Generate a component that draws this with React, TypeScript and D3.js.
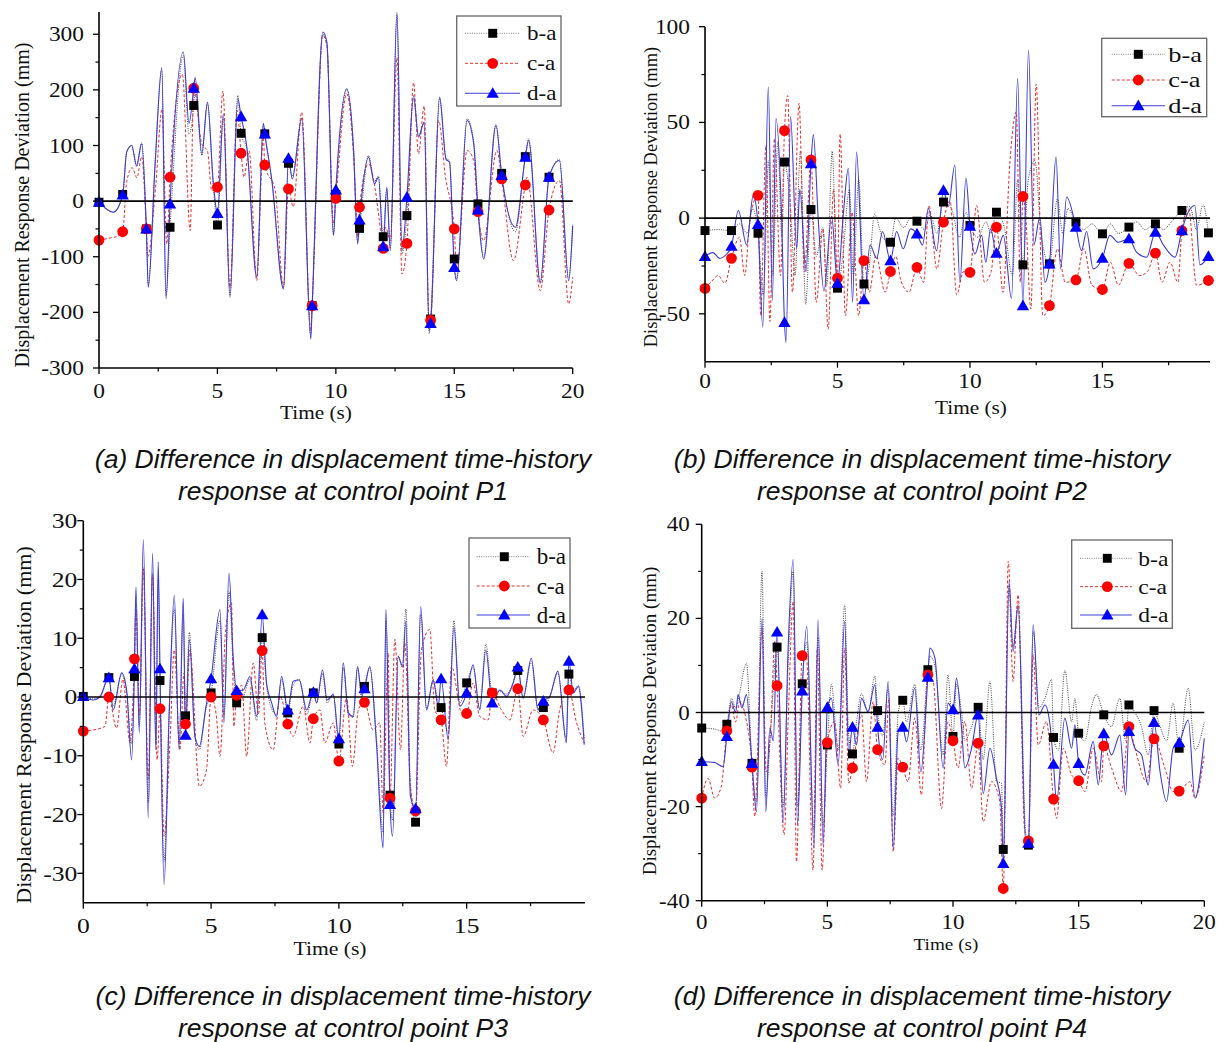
import React from "react";
import * as d3 from "d3";

type Pt = [number, number];

// sample times of the markers (whole seconds)
const markTimes = [0, 1, 2, 3, 4, 5, 6, 7, 8, 9, 10, 11, 12, 13, 14, 15, 16, 17, 18, 19];
const seriesNames = ["b-a", "c-a", "d-a"];

// ---------- P1 ----------
const p1MarkBA = [-2, 12, -50, -47, 172, -43, 122, 121, 68, -188, 12, -49, -64, -26, -212, -104, -5, 50, 80, 43];
const p1MarkCA = [-70, -55, -50, 43, 203, 25, 86, 65, 22, -188, 5, -11, -85, -76, -214, -50, -19, 40, 29, -16];
const p1MarkDA = [-2, 11, -50, -5, 203, -22, 152, 121, 77, -188, 20, -34, -82, 7, -220, -119, -16, 46, 79, 43];

const p1LineBA: Pt[] = [[0.6,-20],[1.17,90],[1.38,100],[1.59,62],[1.8,105],[2.08,-150],[2.37,70],[2.65,235],[2.83,-170],[3.56,262],[3.8,120],[4.06,205],[4.34,82],[4.58,175],[4.83,25],[5.25,150],[5.53,-170],[5.86,190],[6.25,92],[6.66,-135],[6.94,138],[7.3,35],[7.79,-155],[8.16,45],[8.56,150],[8.94,-240],[9.45,300],[9.62,284],[9.9,-60],[10.46,200],[10.75,95],[10.92,-72],[11.38,82],[11.63,35],[11.8,45],[12.15,22],[12.3,-85],[12.58,335],[12.79,-95],[13.28,185],[13.49,118],[13.73,140],[13.94,-238],[14.38,185],[14.65,78],[14.8,72],[15.1,-140],[15.54,148],[15.82,108],[16.24,-100],[16.76,138],[17.58,-55],[18.14,112],[18.63,-148],[19.44,75],[19.83,-140],[20,-42]];
const p1LineCA: Pt[] = [[0.5,-66],[0.85,-62],[1.17,35],[1.4,60],[1.6,42],[1.8,80],[2.06,-100],[2.4,30],[2.66,165],[2.86,-77],[3.52,228],[3.85,-53],[4.34,103],[4.58,90],[4.76,19],[5.23,198],[5.53,-155],[5.83,163],[6.12,43],[6.34,90],[6.66,-143],[6.94,115],[7.44,19],[7.79,-155],[8.2,-10],[8.56,160],[8.94,-233],[9.45,298],[9.62,280],[9.9,-41],[10.46,193],[10.75,80],[10.93,-65],[11.38,67],[11.66,22],[11.82,-29],[12.1,-47],[12.3,-71],[12.58,258],[12.79,-131],[13.28,213],[13.49,85],[13.73,171],[13.94,-218],[14.34,145],[14.62,46],[15.1,-125],[15.54,91],[15.82,73],[16.24,-71],[16.8,91],[17.5,-107],[18.07,43],[18.63,-161],[19.44,37],[19.83,-185],[20,-137]];
const p1LineDA: Pt[] = [[0.6,-20],[1.17,88],[1.38,100],[1.59,64],[1.8,103],[2.08,-155],[2.37,67],[2.65,240],[2.83,-176],[3.56,268],[3.8,140],[4.06,222],[4.34,85],[4.58,178],[4.83,31],[5.25,157],[5.53,-173],[5.86,184],[6.25,95],[6.66,-137],[6.94,140],[7.3,37],[7.79,-158],[8.16,40],[8.56,148],[8.94,-248],[9.45,304],[9.62,286],[9.9,-62],[10.46,202],[10.75,90],[10.92,-77],[11.38,79],[11.63,31],[11.8,43],[12.15,25],[12.3,-89],[12.58,340],[12.79,-89],[13.28,190],[13.49,115],[13.73,142],[13.94,-233],[14.38,187],[14.65,75],[14.8,70],[15.1,-143],[15.54,145],[15.82,103],[16.24,-104],[16.76,136],[17.58,-47],[18.14,109],[18.63,-146],[19.44,73],[19.83,-143],[20,-44]];

// ---------- P2 ----------
const p2MarkBA = [-6.5, -6.5, -7.9, 29.3, 4.5, -36.6, -34.4, -12.6, -1.6, 8.4, -3.8, 3.1, -24.4, -23.9, -2.1, -8.2, -4.7, -3, 4, -7.7];
const p2MarkCA = [-36.7, -21, 11.9, 45.7, 30.4, -31.4, -22.2, -27.9, -25.7, -2.1, -28.3, -4.7, 11.3, -45.7, -32.3, -37.3, -23.6, -18.3, -6.5, -32.6];
const p2MarkDA = [-20, -14.7, -3.3, -54.5, 28.4, -34, -42.6, -22.2, -8.2, 14.5, -4.2, -18.3, -45.7, -23.9, -4.7, -20.9, -10.8, -7.3, -6.5, -20];

const p2LineBA: Pt[] = [[0.5,-6],[1.3,-3],[1.6,-8],[1.8,5],[2.2,-40],[2.4,30],[2.55,-30],[2.75,40],[2.9,-10],[3.2,10],[3.4,-30],[3.6,35],[3.8,-45],[4.2,-20],[4.45,-5],[4.6,-35],[4.8,35],[5.2,-20],[5.45,15],[5.6,-30],[5.8,20],[6.2,-25],[6.4,2],[6.7,-10],[7.2,0],[7.5,-5],[7.75,0],[8.3,-6],[8.5,2],[8.75,-8],[9.3,5],[9.6,-10],[9.85,3],[10.3,-10],[10.6,-2],[10.8,-8],[11.3,-5],[11.6,-30],[11.8,20],[12.2,20],[12.45,30],[12.7,-10],[13.3,10],[13.5,-8],[13.7,5],[14.3,-6],[14.6,-3],[15.3,-3],[15.6,-8],[16.3,-2],[16.6,-6],[17.3,-6],[17.6,-2],[18.3,6],[18.55,-6],[18.8,7]];
const p2LineCA: Pt[] = [[0.25,-33],[0.5,-30],[0.75,-34],[1.3,-10],[1.5,-30],[1.7,0],[2.1,-51],[2.3,38],[2.45,-54],[2.62,41.5],[2.85,-30],[3.12,64],[3.3,-38.7],[3.55,60],[3.75,-28],[4.2,-44],[4.45,-5.6],[4.65,-58],[4.85,15],[5.1,44],[5.3,-51],[5.55,3],[5.8,-51],[6.2,-38.7],[6.45,-19.5],[6.8,-38.7],[7.2,-20],[7.4,-33],[7.7,-38.7],[8.25,-33.5],[8.45,6.6],[8.75,-26.5],[9.25,9],[9.5,-40],[9.75,-28],[10.25,6.6],[10.55,-33.5],[10.8,-28],[11.25,-38.7],[11.5,27.6],[11.75,55.5],[11.9,-33.5],[12.1,1.4],[12.3,-47.5],[12.5,70],[12.75,-51],[13.3,-16],[13.6,-33.5],[14.3,-16],[14.6,-35],[15.3,-23],[15.6,-35],[16.4,-30],[16.7,-28],[17.25,-33.5],[17.55,-23],[17.85,-33.5],[18.25,5],[18.55,-35]];
const p2LineDA: Pt[] = [[0.3,-18],[0.55,-21],[0.8,-19],[1.26,4],[1.57,-14],[1.82,12],[2.18,-57],[2.39,68.6],[2.54,-43],[2.68,52],[2.89,1],[3.06,-65],[3.23,53],[3.46,-16],[3.58,15],[3.81,-28],[4.09,43.6],[4.28,-2],[4.49,-38],[4.78,1],[5.22,2],[5.41,26],[5.57,-44],[5.72,34.5],[6.23,-14],[6.48,-21],[6.7,-7],[7.23,-7],[7.48,-16],[7.76,-5.6],[8.21,-14],[8.43,5],[8.74,-17],[9.18,6],[9.43,27.6],[9.62,-33.5],[9.85,21],[10.19,-18.7],[10.44,-9],[10.6,-23],[10.78,-5.6],[11.26,-9],[11.57,-42],[11.8,73],[12.21,87.8],[12.41,-14],[12.64,0.5],[12.83,-33.5],[13.25,32],[13.42,-26.5],[13.65,11],[14.21,-17],[14.4,-7],[14.65,-26.5],[15.28,-9],[15.6,-12.6],[16.29,-17.8],[16.67,-20.4],[17.3,-14],[17.74,-20.4],[18.2,2],[18.49,6.6],[18.68,-24.4]];

// ---------- P3 ----------
const p3MarkBA = [0.1, 3.3, 3.5, 2.8, -3.2, 0.7, -1, 10.1, -2.7, 0.7, -8, 1.8, -16.7, -21.3, -1.8, 2.4, 0.7, 4.5, -1.8, 3.9];
const p3MarkCA = [-5.8, 0, 6.5, -2, -4.6, 0, 0.3, 7.9, -4.6, -3.7, -10.9, -0.9, -17.2, -19.4, -3.9, -2.8, 0.7, 1.4, -3.9, 1.2];
const p3MarkDA = [0.1, 3.3, 4.8, 4.8, -6.5, 3.1, 1.1, 14, -2.2, 0.8, -7.1, 1.4, -18.3, -19, 3.1, 0.7, -1, 5.1, -0.7, 6.1];

const p3LineBA: Pt[] = [[0.39,-0.3],[0.65,0.2],[1.17,-1.5],[1.5,3.8],[1.7,0.5],[1.89,-8],[2.06,16],[2.19,-5],[2.35,22],[2.54,-18],[2.71,21],[2.84,-8],[2.93,20],[3.16,-28],[3.36,-2],[3.56,15],[3.75,-8],[3.91,14],[4.15,11],[4.37,-7],[4.54,-9],[4.8,-2],[5.35,13],[5.5,-3],[5.7,18],[5.87,5],[6.26,0],[6.52,3],[6.78,-4],[7.17,2],[7.37,-2],[7.56,-3],[7.76,3],[8.21,2],[8.45,3],[8.74,-3],[9.13,-1],[9.36,4],[9.54,-1],[9.78,0.5],[10.17,5],[10.37,-3],[10.56,-3.5],[10.73,5],[10.89,0],[11.21,5],[11.47,-7],[11.73,-23],[11.84,13],[12.1,-21],[12.32,7],[12.49,5],[12.62,15],[12.8,-15],[13.2,14],[13.43,-2],[13.69,3],[13.89,-1],[14.28,-6],[14.5,13],[14.73,-1],[15.25,5],[15.51,-2],[15.75,9],[16.3,1],[16.56,0.5],[16.82,2.5],[17.21,0],[17.53,6],[17.79,-2],[18.25,0],[18.57,4],[18.9,-7],[19.17,1],[19.37,2],[19.6,-7]];
const p3LineCA: Pt[] = [[0.4,-5.6],[0.85,-5],[1.3,-5.3],[1.55,3],[1.83,-7.8],[2.06,14.9],[2.2,-3],[2.35,21.7],[2.54,-14],[2.71,20.5],[2.89,-10.7],[3.16,-23.7],[3.39,-7.8],[3.56,8],[3.78,-9],[3.94,4.1],[4.17,8],[4.54,-15.2],[4.82,-12.4],[5.2,-3],[5.35,-10.1],[5.57,11.5],[5.8,16],[5.89,-5],[6.2,2],[6.39,-10.1],[6.65,5.8],[6.85,-3],[7.1,-4.4],[7.43,-9],[7.7,0.1],[8.21,-6.7],[8.6,-1.6],[8.87,-7.8],[9.26,-2.2],[9.45,-7.8],[9.78,-4.4],[10.3,0.1],[10.53,-11.8],[10.76,-2.2],[11.34,-5.6],[11.6,-4.4],[11.73,-19.7],[11.93,7.5],[12.19,9.8],[12.41,-9],[12.58,9.2],[12.8,-15.2],[13.23,8],[13.56,11.5],[13.75,-2.2],[14.21,-11.8],[14.41,5.2],[14.8,-2.7],[15.25,2.4],[15.51,-3.3],[15.84,-3.9],[16.36,-2.2],[16.69,-3.9],[17.21,-6.7],[17.6,-2.2],[18.38,-9.5],[18.64,-2.2],[19.3,-4.4],[19.6,-7.8]];
const p3LineDA: Pt[] = [[0.39,-0.5],[0.65,0],[1.17,-2.2],[1.5,4.1],[1.7,1],[1.89,-10.7],[2.06,18.7],[2.19,-6.1],[2.35,26.8],[2.54,-20.6],[2.71,24.5],[2.84,-9],[2.93,23],[3.16,-31.9],[3.36,-3],[3.56,17.3],[3.75,-9],[3.91,16.8],[4.15,9.8],[4.37,-6.7],[4.54,-8.4],[4.8,-1.6],[5.35,14.9],[5.5,-4.4],[5.7,21.1],[5.87,6.3],[6.26,1.2],[6.52,3.5],[6.78,-3.3],[7.17,2.4],[7.37,-1],[7.56,-3.3],[7.76,3.5],[8.21,2.7],[8.45,2.9],[8.74,-2.2],[9.13,-1],[9.36,4.6],[9.54,-0.5],[9.78,0.4],[10.17,5.8],[10.37,-2.7],[10.56,-3.3],[10.73,5.2],[10.89,0.4],[11.21,5.2],[11.47,-7.8],[11.73,-25.7],[11.84,14.9],[12.1,-23.7],[12.32,6.9],[12.49,5.2],[12.62,12.9],[12.8,-16.9],[13.2,15.4],[13.43,-2.2],[13.69,2.9],[13.89,-1.6],[14.28,-7.3],[14.5,12],[14.73,-1.6],[15.25,5.5],[15.51,-2.2],[15.75,8],[16.3,1.2],[16.56,0.1],[16.82,2.4],[17.21,-0.2],[17.53,6.6],[17.79,-2.2],[18.25,0.1],[18.57,4.4],[18.9,-7.8],[19.17,0.7],[19.37,1.8],[19.6,-8.1]];

// ---------- P4 ----------
const p4MarkBA = [-3.3, -2.5, -10.8, 13.9, 6.1, -6.9, -8.8, 0.4, 2.6, 9.1, -5.1, 1.1, -29.1, -28.2, -5.3, -4.4, -0.5, 1.6, 0.4, -7.6];
const p4MarkCA = [-18.2, -3.9, -11.6, 5.7, 12.1, -6.4, -11.8, -7.9, -11.6, 8, -6, -6.5, -37.4, -27.3, -18.4, -14.5, -7.1, -3, -5.6, -16.7];
const p4MarkDA = [-10.4, -5.1, -10.8, 17.1, 4.6, 1.1, -3.1, -3.1, -3.1, 7.5, 0.6, -0.5, -32.1, -27.8, -11, -10.8, -4.5, -4, -2.1, -6.4];

const p4LineBA: Pt[] = [[0.5,-3.5],[0.85,-4],[1.18,3],[1.35,1],[1.5,4],[1.78,10.5],[2.18,-19],[2.4,30],[2.55,-18],[2.75,-3],[2.96,20],[3.24,-20],[3.44,10],[3.64,30],[3.81,-20],[4.18,15],[4.47,-25],[4.63,16],[4.83,-24],[5.16,6],[5.43,-8],[5.69,22.9],[5.85,-5],[6.16,-2],[6.36,4],[6.62,0],[6.89,7.7],[7.2,-5],[7.42,5],[7.62,-22],[7.82,0],[8.15,-2],[8.48,6],[8.72,-8],[9.08,12],[9.28,10],[9.61,-9],[9.8,8],[10.14,6],[10.34,0],[10.47,-6],[10.74,-3],[11.2,-10],[11.47,6.6],[11.73,-14.7],[11.93,-15],[12.23,27],[12.39,14],[12.59,23],[12.9,-26],[13.19,17.2],[13.42,1],[13.66,3],[13.92,7],[14.2,-8],[14.45,9],[14.72,-2],[14.85,3],[15.25,-6],[15.5,1],[15.71,3.8],[16.3,-3],[16.64,3],[16.87,-6],[17.24,0],[17.5,-3],[17.77,-9],[18.24,-3],[18.5,-6],[18.76,2],[19.36,5.2],[19.63,-8],[20,-2]];
const p4LineCA: Pt[] = [[0.25,-14],[0.52,-18.2],[0.78,-15.7],[1.18,1.6],[1.35,-2],[1.51,2.3],[1.75,-1],[2.11,-22.1],[2.4,17.9],[2.57,-12.6],[2.75,-3],[2.91,15.1],[3.28,-26],[3.45,0],[3.64,23.6],[3.77,-31.7],[4.17,11.6],[4.43,-33.5],[4.6,13.7],[4.79,-33.5],[5.29,-1.9],[5.53,-16.1],[5.69,13.7],[5.85,-15],[6.36,-0.5],[6.56,-14.7],[6.82,2.3],[7.29,-11.1],[7.45,3],[7.62,-29.6],[7.82,-9.7],[8.21,-14.7],[8.48,-1.2],[8.74,-17.5],[9.21,6.6],[9.54,-20.4],[9.8,-2],[10.2,-11.8],[10.47,-1.9],[10.74,-16.1],[11.2,-23.2],[11.53,-14.7],[11.86,-18.9],[12.2,32.1],[12.39,6.6],[12.59,25],[12.85,-25],[13.19,12.3],[13.39,-6.9],[13.72,-1.9],[14.12,-22.5],[14.39,-7.6],[14.72,-13.3],[15.25,-16.8],[15.58,-7.6],[15.91,-14.7],[16.31,-11.8],[16.71,-16.8],[17.24,-7.6],[17.7,-14.7],[18.43,-11.8],[18.76,-16.8],[19.43,-14.7],[19.63,-18.2],[20,-9]];
const p4LineDA: Pt[] = [[0.5,-10.6],[0.85,-11.5],[1.18,2.3],[1.35,0],[1.45,3.8],[1.6,1],[1.78,3.8],[2.18,-21.1],[2.4,20],[2.55,-21.1],[2.71,-3.3],[2.85,-6],[2.96,23.6],[3.24,-23.5],[3.44,13.7],[3.64,32.5],[3.81,-23.9],[4.18,18.3],[4.47,-28.9],[4.63,19.7],[4.83,-28.2],[5.16,3],[5.43,-11.1],[5.69,19.4],[5.85,-9],[6.16,-6.9],[6.36,3],[6.62,0.2],[6.89,5.9],[7.2,-10],[7.42,6.6],[7.62,-28.9],[7.82,-4],[8.15,-6.2],[8.48,5.2],[8.72,-12.6],[9.08,13.7],[9.28,11.6],[9.61,-11.8],[9.8,2],[10.14,7.3],[10.34,-3.3],[10.47,-11.8],[10.74,-7.6],[11.2,-17.2],[11.47,-7.6],[11.73,-14],[11.93,-20.4],[12.23,27.9],[12.39,13],[12.59,22.6],[12.9,-28.2],[13.19,18.7],[13.42,-0.5],[13.66,1.6],[13.86,-2.6],[14.12,-18.9],[14.45,-1.2],[14.72,-7.6],[14.85,-2.6],[15.25,-13.3],[15.58,-6.2],[15.78,-15.4],[16.31,-9],[16.64,-4.8],[16.87,-17.5],[17.24,-7.6],[17.5,-9],[17.77,-15.4],[18.24,-12.6],[18.5,-18.9],[18.76,-7.6],[19.36,-1.6],[19.63,-18.2],[20,-5.5]];

const captions = [
  ["(a) Difference in displacement time-history", "response at control point P1"],
  ["(b) Difference in displacement time-history", "response at control point P2"],
  ["(c) Difference in displacement time-history", "response at control point P3"],
  ["(d) Difference in displacement time-history", "response at control point P4"],
];

// put the marker samples into the curve, drop near-duplicate times
function mergeSeries(line: Pt[], marks: number[]): Pt[] {
  const kept = line.filter(([t]) => !markTimes.some((m) => Math.abs(t - m) < 0.05));
  const pts = kept.concat(marks.map((v, i) => [markTimes[i], v] as Pt));
  return pts.sort((p, q) => p[0] - q[0]);
}

const SERIF = "'Liberation Serif', 'Times New Roman', serif";
const SANS = "'Liberation Sans', Arial, sans-serif";

const lineStyles = [
  { stroke: "#333", width: 0.9, dash: "1 1.3" },
  { stroke: "#e8302c", width: 1, dash: "3 2" },
  { stroke: "#3c3cdc", width: 1.1, dash: "" },
];
const markFill = ["#000", "#ff0000", "#0000ff"];
const markSym = [
  d3.symbol().type(d3.symbolSquare).size(80)(),
  d3.symbol().type(d3.symbolCircle).size(92)(),
  d3.symbol().type(d3.symbolTriangle).size(66)(),
];

const panels = [
  {
    left: 99, right: 572.7, top: 12, bottom: 368, xMax: 20, yMin: -300, yMax: 340,
    xTicks: [0, 5, 10, 15, 20], xMinor: [2.5, 7.5, 12.5, 17.5],
    yTicks: [-300, -200, -100, 0, 100, 200, 300], yMinor: [-250, -150, -50, 50, 150, 250],
    lines: [p1LineBA, p1LineCA, p1LineDA], marks: [p1MarkBA, p1MarkCA, p1MarkDA],
    tickSize: 20, tickSx: 1.17, yLabGap: 15, xLabBase: 398,
    yTitle: { x: 22, y: 205, size: 20 }, xTitle: { x: 316, y: 419, size: 19, sx: 1.12 },
    legend: { x: 456.7, y: 16, w: 104.3, h: 90, rows: [33.3, 63.3, 93.3], l0: 465, l1: 520, mx: 492.7, tx: 527, size: 21, sx: 1.1 },
    cap: { x: 343, y: 468 },
  },
  {
    left: 705, right: 1210, top: 26.7, bottom: 361.7, xMax: 19.06, yMin: -75, yMax: 100,
    xTicks: [0, 5, 10, 15], xMinor: [2.5, 7.5, 12.5, 17.5],
    yTicks: [-50, 0, 50, 100], yMinor: [-25, 25, 75],
    lines: [p2LineBA, p2LineCA, p2LineDA], marks: [p2MarkBA, p2MarkCA, p2MarkDA],
    tickSize: 20, tickSx: 1.17, yLabGap: 15, xLabBase: 388,
    yTitle: { x: 651, y: 197, size: 18.5 }, xTitle: { x: 971, y: 414, size: 19, sx: 1.12 },
    legend: { x: 1101.7, y: 38.3, w: 105, h: 78.4, rows: [54.3, 80, 105.7], l0: 1111.7, l1: 1165, mx: 1138.3, tx: 1168.3, size: 22, sx: 1.2 },
    cap: { x: 922, y: 468 },
  },
  {
    left: 83.3, right: 585, top: 520.7, bottom: 902.7, xMax: 19.63, yMin: -35, yMax: 30,
    xTicks: [0, 5, 10, 15], xMinor: [2.5, 7.5, 12.5, 17.5],
    yTicks: [-30, -20, -10, 0, 10, 20, 30], yMinor: [-25, -15, -5, 5, 15, 25],
    lines: [p3LineBA, p3LineCA, p3LineDA], marks: [p3MarkBA, p3MarkCA, p3MarkDA],
    tickSize: 21, tickSx: 1.22, yLabGap: 6, xLabBase: 933,
    yTitle: { x: 23, y: 725, size: 22 }, xTitle: { x: 330, y: 955, size: 18, sx: 1.2 },
    legend: { x: 469, y: 538, w: 101, h: 90, rows: [556.7, 586, 615], l0: 476.7, l1: 530, mx: 504.3, tx: 536.7, size: 23, sx: 1.0 },
    cap: { x: 343, y: 1005 },
  },
  {
    left: 701.7, right: 1204.3, top: 524.3, bottom: 900.7, xMax: 20, yMin: -40, yMax: 40,
    xTicks: [0, 5, 10, 15, 20], xMinor: [2.5, 7.5, 12.5, 17.5],
    yTicks: [-40, -20, 0, 20, 40], yMinor: [-30, -10, 10, 30],
    lines: [p4LineBA, p4LineCA, p4LineDA], marks: [p4MarkBA, p4MarkCA, p4MarkDA],
    tickSize: 20, tickSx: 1.15, yLabGap: 12, xLabBase: 929,
    yTitle: { x: 649, y: 721, size: 19 }, xTitle: { x: 946, y: 950, size: 17, sx: 1.13 },
    legend: { x: 1071.7, y: 540, w: 100.6, h: 88.3, rows: [558.3, 586.7, 615], l0: 1080, l1: 1131.7, mx: 1107.3, tx: 1138.3, size: 22, sx: 1.07 },
    cap: { x: 922, y: 1005 },
  },
];

function Panel({ cfg, caption }: { cfg: any; caption: string[] }) {
  const x = d3.scaleLinear().domain([0, cfg.xMax]).range([cfg.left, cfg.right]);
  const y = d3.scaleLinear().domain([cfg.yMin, cfg.yMax]).range([cfg.bottom, cfg.top]);
  const line = d3
    .line<Pt>()
    .x((d) => x(d[0]))
    .y((d) => y(d[1]))
    .curve(d3.curveMonotoneX);

  const merged = cfg.lines.map((l: Pt[], i: number) => mergeSeries(l, cfg.marks[i]));
  const lg = cfg.legend;

  return (
    <g>
      {/* curves */}
      {merged.map((pts: Pt[], i: number) => (
        <path
          key={"l" + i}
          d={line(pts) || ""}
          fill="none"
          stroke={lineStyles[i].stroke}
          strokeWidth={lineStyles[i].width}
          strokeDasharray={lineStyles[i].dash}
        />
      ))}
      {/* zero line */}
      <line x1={x(0)} x2={x(cfg.xMax)} y1={y(0)} y2={y(0)} stroke="#000" strokeWidth={1.6} />
      {/* markers */}
      {cfg.marks.map((vals: number[], i: number) =>
        vals.map((v, k) => (
          <path
            key={"m" + i + "-" + k}
            d={markSym[i] || ""}
            transform={`translate(${x(markTimes[k])},${y(v) + (i === 2 ? 1 : 0)})`}
            fill={markFill[i]}
          />
        ))
      )}
      {/* axes */}
      <line x1={cfg.left} x2={cfg.left} y1={cfg.top} y2={cfg.bottom} stroke="#000" strokeWidth={1.6} />
      <line x1={cfg.left} x2={cfg.right} y1={cfg.bottom} y2={cfg.bottom} stroke="#000" strokeWidth={1.6} />
      {cfg.yTicks.map((t: number) => (
        <g key={"yt" + t}>
          <line x1={cfg.left - 6} x2={cfg.left} y1={y(t)} y2={y(t)} stroke="#000" strokeWidth={1.3} />
          <text
            transform={`translate(${cfg.left - cfg.yLabGap},${y(t)}) scale(${cfg.tickSx},1)`}
            dy="0.35em"
            textAnchor="end"
            fontFamily={SERIF}
            fontSize={cfg.tickSize}
            fill="#111"
          >
            {t}
          </text>
        </g>
      ))}
      {cfg.yMinor.map((t: number) => (
        <line key={"ym" + t} x1={cfg.left - 3.5} x2={cfg.left} y1={y(t)} y2={y(t)} stroke="#000" strokeWidth={1.2} />
      ))}
      {cfg.xTicks.map((t: number) => (
        <g key={"xt" + t}>
          <line x1={x(t)} x2={x(t)} y1={cfg.bottom} y2={cfg.bottom + 6} stroke="#000" strokeWidth={1.3} />
          <text
            transform={`translate(${x(t)},${cfg.xLabBase}) scale(${cfg.tickSx},1)`}
            textAnchor="middle"
            fontFamily={SERIF}
            fontSize={cfg.tickSize}
            fill="#111"
          >
            {t}
          </text>
        </g>
      ))}
      {cfg.xMinor.map((t: number) => (
        <line key={"xm" + t} x1={x(t)} x2={x(t)} y1={cfg.bottom} y2={cfg.bottom + 3.5} stroke="#000" strokeWidth={1.2} />
      ))}
      {/* titles */}
      <text
        transform={`translate(${cfg.yTitle.x},${cfg.yTitle.y}) rotate(-90)`}
        textAnchor="middle"
        dy="0.35em"
        fontFamily={SERIF}
        fontSize={cfg.yTitle.size}
        fill="#111"
      >
        Displacement Response Deviation (mm)
      </text>
      <text
        transform={`translate(${cfg.xTitle.x},${cfg.xTitle.y}) scale(${cfg.xTitle.sx},1)`}
        textAnchor="middle"
        fontFamily={SERIF}
        fontSize={cfg.xTitle.size}
        fill="#111"
      >
        Time (s)
      </text>
      {/* legend */}
      <rect x={lg.x} y={lg.y} width={lg.w} height={lg.h} fill="#fff" stroke="#666" strokeWidth={1.3} />
      {seriesNames.map((name, i) => (
        <g key={"lg" + i}>
          <line
            x1={lg.l0}
            x2={lg.l1}
            y1={lg.rows[i]}
            y2={lg.rows[i]}
            stroke={i === 0 ? "#777" : lineStyles[i].stroke}
            strokeWidth={lineStyles[i].width}
            strokeDasharray={lineStyles[i].dash}
          />
          <path d={markSym[i] || ""} transform={`translate(${lg.mx},${lg.rows[i] + (i === 2 ? 1 : 0)})`} fill={markFill[i]} />
          <text
            transform={`translate(${lg.tx},${lg.rows[i]}) scale(${lg.sx},1)`}
            dy="0.33em"
            fontFamily={SERIF}
            fontSize={lg.size}
            fill="#111"
          >
            {name}
          </text>
        </g>
      ))}
      {/* caption */}
      {caption.map((c, i) => (
        <text
          key={"c" + i}
          x={cfg.cap.x}
          y={cfg.cap.y + i * 32}
          textAnchor="middle"
          fontFamily={SANS}
          fontStyle="italic"
          fontSize={26.5}
          fill="#111"
        >
          {c}
        </text>
      ))}
    </g>
  );
}

export default function App() {
  return (
    <svg
      width={1223}
      height={1042}
      style={{ position: "absolute", left: 0, top: 0, background: "#fff" }}
    >
      <rect width={1223} height={1042} fill="#fff" />
      {panels.map((p, i) => (
        <Panel key={i} cfg={p} caption={captions[i]} />
      ))}
    </svg>
  );
}
